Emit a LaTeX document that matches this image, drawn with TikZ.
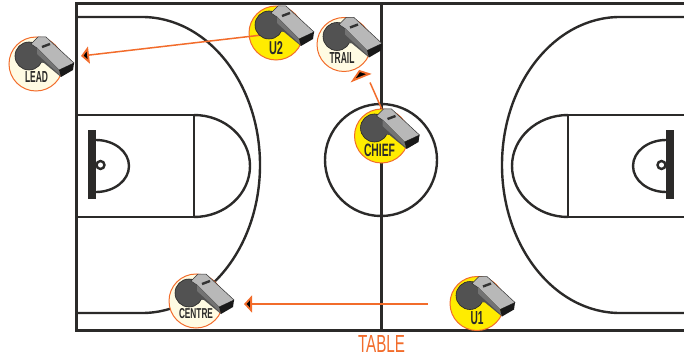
\documentclass[tikz,border=0pt]{standalone}
\usepackage{fontspec}
\setmainfont{Liberation Sans}
\usetikzlibrary{arrows.meta}

\definecolor{courtline}{HTML}{2B2A29}
\definecolor{callorange}{HTML}{F26C2B}
\definecolor{onball}{HTML}{FFEC00}
\definecolor{offball}{HTML}{FFFBE3}

\tikzset{
    court/.style={courtline, line width=2.4pt},
    courtthick/.style={courtline, line width=3pt},
    badge/.style={circle, draw=callorange, line width=1pt, minimum size=54pt, inner sep=0pt},
    move/.style={callorange, line width=1.5pt, -{Triangle[length=8pt, width=17pt, fill=black, line width=1.8pt]}},
    whistle/.pic={
        \fill[black!68, draw=black!85, line width=.6pt] (-7,-8) circle (14);
        \fill[black!68] (-4,-3) -- (1,-16) -- (23,6) -- (25,13) -- (8,-1) -- cycle;
        \fill[black!28, draw=black!80, line width=.5pt] (-5,-20) -- (2,-27) -- (10,-27) -- (38,-1) -- (23,6) -- (1,-16) -- cycle;
        \fill[black!55] (1,-16) -- (23,6) -- (24,11) -- (1,-10) -- cycle;
        \fill[black!90] (23,6) -- (38,-1) -- (37,6) -- (25,13) -- cycle;
        \draw[black!80, line width=2.4pt] (6,-17) -- (14,-20);
    }
}

\begin{document}
\begin{tikzpicture}[x=1pt, y=-1pt]
    \useasboundingbox (0,0) rectangle (684,358);

    % Outer lines
    \draw[courtthick] (684,4) -- (76,4) -- (76,330) -- (684,330);
    \draw[courtthick] (381,4) -- (381,330);
    \draw[court] (381,160) circle (56);

    % Left half
    \draw[court] (76,17) -- (142,17) arc[start angle=-90, end angle=90, x radius=118, y radius=148] -- (76,313);
    \draw[court] (76,115) -- (194,115) -- (194,217) -- (76,217);
    \draw[court] (194,115) arc[start angle=-90, end angle=90, x radius=56, y radius=51];
    \draw[court] (96,140) arc[start angle=-90, end angle=90, x radius=33, y radius=26];
    \draw[court] (100.5,165) circle (4);
    \fill[courtline] (88,130) rectangle (96,199);

    % Right half
    \draw[court] (684,17) -- (620,17) arc[start angle=-90, end angle=-270, x radius=118, y radius=148] -- (684,313);
    \draw[court] (684,115) -- (568,115) -- (568,217) -- (684,217);
    \draw[court] (568,115) arc[start angle=-90, end angle=-270, x radius=56, y radius=51];
    \draw[court] (666,140) arc[start angle=-90, end angle=-270, x radius=33, y radius=26];
    \draw[court] (661.5,165) circle (4);
    \fill[courtline] (666,130) rectangle (674,199);

    % Referee badges
    \foreach \x/\y/\name/\col in {36/64/lead/offball, 276/33/utwo/onball, 344/44.5/trail/offball,
                                  381.5/136/chief/onball, 196/301/centre/offball, 477/303.5/uone/onball} {
        \node[badge, fill=\col] (\name) at (\x,\y) {};
    }

    % Moves
    \coordinate (leadtip) at (81,56);
    \coordinate (utwostart) at (262,35);
    \coordinate (centretip) at (244,304);
    \coordinate (uonestart) at (428,304);
    \coordinate (trailend) at (370,82.5);
    \draw[move] (utwostart) -- (leadtip);
    \draw[move] (uonestart) -- (centretip);
    \draw[callorange, line width=1.5pt] (chief.north) -- (trailend);
    \draw[callorange, line width=1.8pt, fill=black, line join=miter] (353,80.5) -- (369,74) -- (359.5,71) -- cycle;

    % Whistles and labels
    \foreach \x/\y/\dx/\dy/\txt/\w/\h in {36/64/0.5/13/LEAD/23/11, 276/33/0/15/U2/14/13, 344/44.5/-2/14/TRAIL/25/11,
                                          381.5/136/-2/14/CHIEF/31/12.5, 196/301/0/13/CENTRE/34/10, 477/303.5/0/15/U1/13/13} {
        \pic at (\x,\y) {whistle};
        \node[inner sep=0pt, text=courtline] (label\txt) at (\x+\dx,\y+\dy) {\resizebox{\w pt}{\h pt}{\bfseries\txt}};
    }

    \node[inner sep=0pt, text=callorange] (table) at (381.5,344) {\resizebox{47pt}{17pt}{TABLE}};
\end{tikzpicture}
\end{document}
